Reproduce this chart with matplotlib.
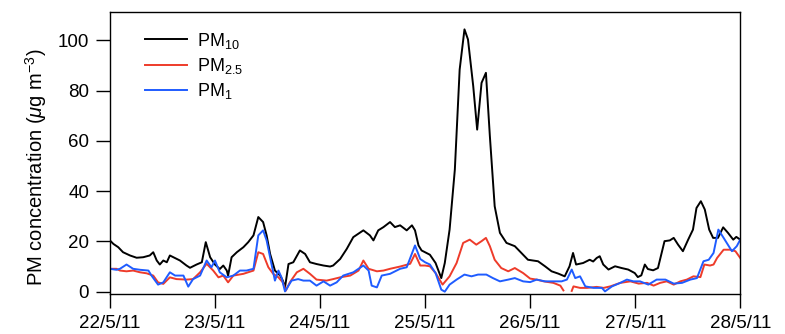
import numpy as np
import pandas as pd
import matplotlib
matplotlib.use("Agg")
import matplotlib.pyplot as plt
import matplotlib.dates as mdates
from matplotlib.ticker import FuncFormatter

plt.rcParams['font.family'] = ['Liberation Sans', 'DejaVu Sans']
plt.rcParams['mathtext.fontset'] = 'custom'
plt.rcParams['mathtext.rm'] = 'Liberation Sans'
plt.rcParams['mathtext.it'] = 'Liberation Sans:italic'

START = pd.Timestamp("2011-05-22 00:00")

# hours since 22/5/11 00:00, concentration in ug/m3
pm10_hours = [0, 0.8, 1.9, 3.0, 4.6, 6.1, 7.6, 9.1, 9.9, 10.7, 11.4, 12.2, 13.0, 13.7, 14.5,
              16.0, 17.5, 18.3, 19.8, 21.0, 21.9, 22.9, 24.0, 25.1, 25.9, 26.7, 27.0, 27.8,
              29.0, 30.5, 31.6, 32.8, 33.9, 35.0, 35.8, 36.6, 37.7, 38.9, 39.5, 40.0, 40.8,
              41.9, 43.4, 44.6, 45.7, 47.2, 48.8, 50.3, 51.0, 52.6, 54.1, 55.6, 57.9, 59.4,
              60.2, 61.3, 62.5, 64.0, 65.1, 66.3, 67.8, 69.0, 69.7, 70.5, 71.2, 73.1, 74.4,
              75.7, 76.5, 77.6, 78.8, 79.9, 81.0, 81.8, 83.0, 83.9, 84.9, 85.9, 86.8, 87.9,
              89.1, 90.6, 92.5, 94.4, 95.5, 97.8, 99.4, 100.9, 102.4, 103.9, 105.0, 105.8,
              106.5, 108.1, 109.6, 110.4, 111.2, 111.9, 112.7, 113.9, 115.4, 116.9, 118.4,
              119.9, 120.6, 121.4, 122.2, 122.9, 124.1, 125.2, 126.7, 127.9, 128.8, 129.8,
              130.9, 132.1, 133.2, 134.0, 135.0, 135.9, 136.9, 137.8, 138.9, 140.1, 141.2,
              142.4, 143.1, 144.0]
pm10 = [20.4, 19.0, 17.7, 15.7, 14.4, 13.5, 13.7, 14.4, 15.7, 12.4, 10.8, 12.4, 11.7, 14.4, 13.7,
        12.4, 10.4, 9.5, 10.8, 11.7, 19.7, 13.7, 10.8, 9.0, 10.4, 8.4, 6.4, 13.7,
        15.7, 17.7, 19.7, 22.4, 29.7, 27.7, 22.4, 15.0, 8.4, 6.4, 4.4, 1.7, 11.0,
        11.7, 16.4, 15.0, 11.7, 11.0, 10.4, 10.0, 10.4, 13.0, 17.0, 21.7, 24.4, 22.4,
        20.4, 24.4, 25.7, 27.7, 25.7, 26.4, 24.4, 26.4, 24.4, 18.4, 16.4, 14.7, 11.4,
        5.4, 11.4, 24.7, 48.6, 88.4, 104.4, 100.4, 81.8, 64.5, 83.1, 87.1, 61.9, 34.0,
        23.4, 19.4, 18.1, 14.7, 12.7, 12.1, 10.1, 8.1, 7.2, 6.1, 10.1, 15.4,
        10.8, 11.4, 12.7, 12.0, 13.4, 14.1, 10.8, 8.8, 10.1, 9.4, 8.8,
        7.4, 5.8, 6.5, 10.8, 9.0, 8.5, 9.4, 20.1, 20.4, 21.4, 18.7,
        16.1, 20.7, 24.7, 33.3, 36.0, 32.7, 24.7, 21.4, 21.4, 25.6, 23.4,
        20.7, 21.8, 20.7]

pm25_hours = [0, 1.5, 2.3, 3.8, 5.3, 6.9, 8.4, 9.9, 11.0, 12.2, 13.7, 15.2, 17.5, 19.0, 20.6,
              22.1, 23.6, 24.8, 25.9, 27.0, 28.2, 30.5, 32.8, 33.9, 35.0, 36.2, 37.3, 38.5,
              39.5, 40.2, 41.1, 42.7, 44.2, 45.7, 47.2, 49.5, 51.0, 52.6, 54.9, 56.8, 57.9,
              59.1, 61.0, 62.5, 64.0, 66.3, 68.6, 69.7, 70.9, 72.0, 73.1, 74.4, 76.0, 77.6,
              79.2, 80.7, 82.2, 83.7, 84.9, 85.9, 86.8, 87.9, 89.4, 91.0, 92.5, 94.4, 96.0,
              97.5, 99.1, 101.3, 102.9, 103.6, 104.5, 105.5, 105.9, 107.4, 109.0, 111.2,
              112.8, 114.3, 116.6, 118.9, 120.8, 122.7, 124.2, 125.7, 127.2, 128.8, 130.3,
              131.8, 133.3, 134.9, 135.8, 137.1, 137.9, 138.7, 140.2, 141.7, 142.9, 144.0]
pm25 = [9.1, 9.1, 8.4, 8.1, 8.4, 7.7, 7.3, 6.4, 3.7, 3.1, 5.7, 5.0, 4.8, 5.0, 7.7,
        11.1, 8.4, 5.7, 6.4, 3.7, 6.4, 7.1, 8.4, 15.7, 15.0, 9.7, 7.1, 5.7,
        3.7, 0.4, 3.7, 7.7, 9.1, 7.1, 4.8, 4.4, 5.0, 5.7, 6.4, 8.4, 12.4,
        9.1, 8.1, 8.4, 9.1, 10.0, 11.1, 15.0, 10.4, 10.4, 10.1, 7.4, 2.8, 6.1,
        11.4, 19.4, 20.7, 18.7, 20.1, 21.4, 18.1, 12.7, 9.4, 8.1, 9.4, 7.4, 5.2,
        4.8, 4.1, 3.5, 2.4, 0.5, np.nan, 0.3, 2.1, 1.5, 1.5, 1.9,
        1.5, 2.1, 3.5, 4.1, 3.2, 3.5, 2.4, 3.5, 4.1, 2.8, 4.1,
        4.8, 6.1, 5.8, 10.8, 10.4, 10.8, 13.4, 16.7, 16.7, 16.1, 13.4]

pm1_hours = [0, 1.5, 2.3, 3.8, 5.3, 6.9, 8.8, 9.5, 11.0, 12.2, 13.7, 14.9, 16.8, 17.9, 19.0,
             20.6, 22.1, 23.2, 24.0, 25.1, 26.7, 28.2, 29.7, 31.2, 32.8, 33.9, 35.0, 35.8,
             36.9, 37.7, 38.5, 39.2, 40.0, 41.5, 43.0, 44.2, 45.7, 47.2, 48.8, 50.3, 51.8,
             53.3, 55.6, 57.9, 59.1, 59.8, 61.0, 62.1, 64.0, 66.3, 67.8, 69.7, 70.9, 72.0,
             73.1, 74.4, 75.7, 76.5, 77.6, 79.2, 81.0, 82.6, 84.1, 86.0, 87.5, 89.1, 91.0,
             92.5, 94.4, 96.0, 97.5, 99.4, 101.3, 103.2, 104.4, 105.5, 106.3, 107.4, 108.6,
             110.5, 112.4, 113.1, 114.7, 116.6, 118.1, 119.6, 121.1, 123.0, 124.9, 126.9,
             128.8, 130.7, 132.6, 134.1, 135.6, 136.8, 137.9, 139.0, 140.2, 142.1, 143.2,
             144.0]
pm1 = [9.1, 8.7, 9.1, 10.8, 9.1, 8.7, 8.4, 6.4, 2.8, 3.7, 7.7, 6.4, 6.4, 2.0, 5.0,
       6.4, 12.4, 9.7, 12.4, 7.7, 5.7, 6.4, 8.4, 8.4, 9.1, 22.4, 24.4, 20.4,
       11.1, 4.4, 8.4, 5.7, 0.1, 4.4, 5.0, 4.4, 4.4, 2.4, 4.1, 2.4, 3.7,
       6.4, 7.7, 10.4, 8.4, 2.4, 1.7, 6.4, 7.1, 9.1, 9.7, 18.4, 13.0, 11.7,
       10.8, 7.4, 0.8, 0.0, 2.8, 4.8, 6.8, 6.1, 6.8, 6.8, 5.4, 4.1, 4.8,
       5.4, 4.1, 3.8, 4.8, 4.1, 4.1, 4.1, 4.8, 8.8, 5.4, 6.1, 2.1,
       1.5, 1.5, 0.1, 2.1, 3.5, 4.8, 4.1, 4.1, 2.8, 4.8, 4.8,
       3.2, 3.5, 4.8, 5.4, 12.1, 12.7, 15.4, 24.7, 21.4, 16.1, 18.1,
       20.7]


def to_time(hours):
    return START + pd.to_timedelta(hours, unit="h")


def day_label(v, pos):
    d = mdates.num2date(v)
    return "{}/{}/{}".format(d.day, d.month, d.year % 100)


fig = plt.figure(figsize=(7.85, 3.34), dpi=100)
ax = fig.add_axes([0.140, 0.120, 0.803, 0.844])

ax.plot(to_time(pm10_hours), pm10, color="black", lw=1.4, label="PM$_{10}$")
ax.plot(to_time(pm25_hours), pm25, color="#ee3b2a", lw=1.4, label="PM$_{2.5}$")
ax.plot(to_time(pm1_hours), pm1, color="#1f5cff", lw=1.4, label="PM$_{1}$")

ax.set_xlim(START, START + pd.Timedelta(days=6))
ax.set_ylim(-0.9, 111.3)
ax.set_yticks([0, 20, 40, 60, 80, 100])
ax.xaxis.set_major_locator(mdates.DayLocator())
ax.xaxis.set_major_formatter(FuncFormatter(day_label))
ax.tick_params(direction="out", length=10, width=1, labelsize=13.5, pad=5)
for s in ax.spines.values():
    s.set_linewidth(1)

ax.set_ylabel(r"PM concentration ($\mathit{\mu}$g m$^{-3}$)", fontsize=14.5)
ax.yaxis.set_label_coords(-0.097, 0.45)

ax.legend(loc="upper left", bbox_to_anchor=(0.03, 0.992), frameon=False, fontsize=13,
          handlelength=2.3, handletextpad=0.55, labelspacing=0.3)

fig.savefig("out.png", dpi=100)
